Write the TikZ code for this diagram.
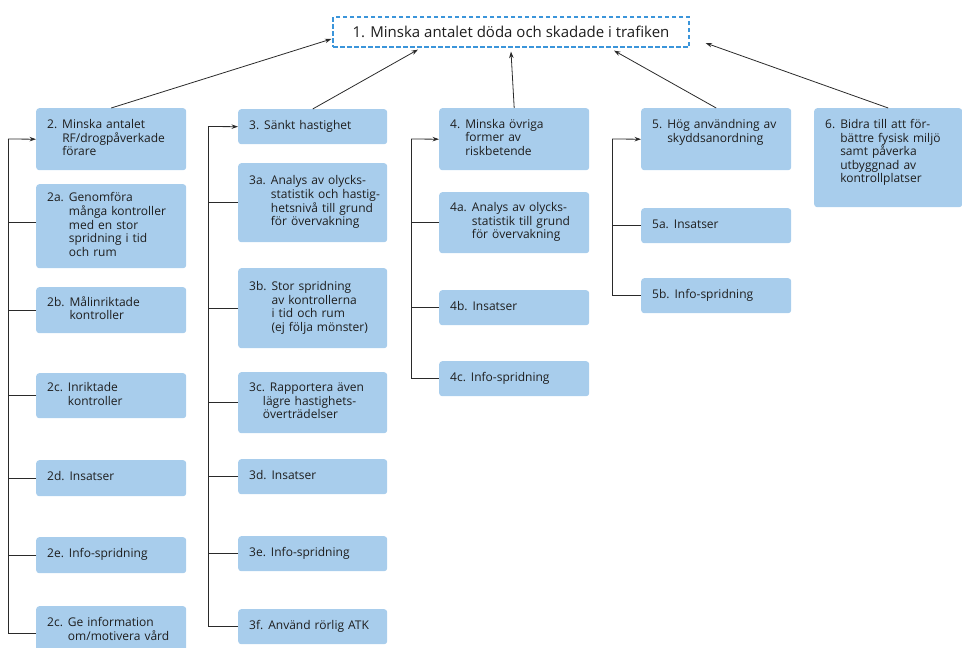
\documentclass[tikz,border=0pt]{standalone}
\usepackage{fontspec}
\setmainfont{Open Sans}
\usetikzlibrary{arrows.meta}
\definecolor{boxblue}{HTML}{A8CDEC}
\definecolor{dashblue}{HTML}{3B95DA}
\definecolor{linecol}{HTML}{2A2A2A}
\definecolor{textcol}{HTML}{1E1E1E}
\newcommand\itm[2]{\begin{tabular}[c]{@{}l@{\hspace{5pt}}l@{}}#1&#2\end{tabular}}
\tikzset{
  bx/.style={fill=boxblue, rounded corners=3pt, anchor=north west, inner xsep=11pt, inner ysep=0pt,
    align=left, text=textcol, font=\fontsize{12}{13.5}\selectfont},
  w150/.style={text width=128pt, minimum width=150pt},
  w149/.style={text width=127pt, minimum width=149pt},
  conn/.style={draw=linecol, line width=0.8pt},
  arr/.style={conn, -{Stealth[length=6.5pt,width=4.5pt]}},
}
\begin{document}
\begin{tikzpicture}[x=1pt,y=-1pt]
\useasboundingbox (0,0) rectangle (962,648);
% title
\node[draw=dashblue, dash pattern=on 4.5pt off 2.5pt, line width=1.2pt, fill=white,
  minimum width=356pt, minimum height=30pt, inner sep=0pt, text=textcol,
  font=\fontsize{15}{18}\selectfont] (t) at (511,32) {1. Minska antalet döda och skadade i trafiken};
% column 2
\node[bx,w150,minimum height=62pt] (n2) at (36,108) {\itm{2.}{Minska antalet\\&RF/drogpåverkade\\&förare}};
\node[bx,w150,minimum height=84pt] (n2a) at (36,184) {\itm{2a.}{Genomföra\\&många kontroller\\&med en stor\\&spridning i tid\\&och rum}};
\node[bx,w150,minimum height=46pt] (n2b) at (36,287) {\itm{2b.}{Målinriktade\\&kontroller}};
\node[bx,w150,minimum height=45pt] (n2c) at (36,373) {\itm{2c.}{Inriktade\\&kontroller}};
\node[bx,w150,minimum height=36pt] (n2d) at (36,460) {\itm{2d.}{Insatser}};
\node[bx,w150,minimum height=36pt] (n2e) at (36,537) {\itm{2e.}{Info-spridning}};
\node[bx,w150,minimum height=50pt] (n2f) at (36,606) {\itm{2c.}{Ge information\\&om/motivera vård}};
% column 3
\node[bx,w149,minimum height=35pt] (n3) at (238,109) {\itm{3.}{Sänkt hastighet}};
\node[bx,w149,minimum height=79pt] (n3a) at (238,163) {\itm{3a.}{Analys av olycks-\\&statistik och hastig-\\&hetsnivå till grund\\&för övervakning}};
\node[bx,w149,minimum height=80pt] (n3b) at (238,268) {\itm{3b.}{Stor spridning\\&av kontrollerna\\&i tid och rum\\&(ej följa mönster)}};
\node[bx,w149,minimum height=61pt] (n3c) at (238,372) {\itm{3c.}{Rapportera även\\&\hspace{-7pt}lägre hastighets-\\&\hspace{-7pt}överträdelser}};
\node[bx,w149,minimum height=35pt] (n3d) at (238,459) {\itm{3d.}{Insatser}};
\node[bx,w149,minimum height=35pt] (n3e) at (238,536) {\itm{3e.}{Info-spridning}};
\node[bx,w149,minimum height=35pt] (n3f) at (238,609) {\itm{3f.}{Använd rörlig ATK}};
% column 4
\node[bx,w150,minimum height=62pt] (n4) at (439,108) {\itm{4.}{Minska övriga\\&former av\\&riskbetende}};
\node[bx,w150,minimum height=61pt] (n4a) at (439,192) {\itm{4a.}{Analys av olycks-\\&statistik till grund\\&för övervakning}};
\node[bx,w150,minimum height=35pt] (n4b) at (439,290) {\itm{4b.}{Insatser}};
\node[bx,w150,minimum height=35pt] (n4c) at (439,361) {\itm{4c.}{Info-spridning}};
% column 5
\node[bx,w150,minimum height=62pt] (n5) at (641,108) {\parbox[c][62pt][t]{128pt}{\vspace{11pt}\itm{5.}{Hög användning av\\&skyddsanordning}}};
\node[bx,w150,minimum height=35pt] (n5a) at (641,208) {\itm{5a.}{Insatser}};
\node[bx,w150,minimum height=35pt] (n5b) at (641,278) {\itm{5b.}{Info-spridning}};
% column 6
\node[bx,text width=126pt,minimum width=148pt,minimum height=99pt] (n6) at (814,108) {\parbox[c][99pt][t]{126pt}{\vspace{11pt}\itm{6.}{Bidra till att för-\\&bättre fysisk miljö\\&samt påverka\\&utbyggnad av\\&kontrollplatser}}};
% arrows to title
\draw[arr] (n2.north) -- ([xshift=-1pt,yshift=-7pt]t.west);
\draw[arr] (n3.north) -- ([xshift=-93pt,yshift=-2pt]t.south);
\draw[arr] (n4.north) -- ([yshift=-4pt]t.south);
\draw[arr] (n5.north) -- ([xshift=103pt,yshift=-3pt]t.south);
\draw[arr] (n6.north) -- ([xshift=16pt,yshift=-11pt]t.east);
% spine column 2
\coordinate (s2) at (8,139);
\draw[arr] (s2) -- (n2.west);
\draw[conn] (s2) |- ([yshift=-2pt]n2f.west);
\foreach \n/\dy in {n2a/4,n2b/0,n2c/0,n2d/0,n2e/0}
  \draw[conn] ([yshift=\dy pt]\n.west) -- ([yshift=\dy pt]\n.west -| s2);
% spine column 3
\coordinate (s3) at (208,126.5);
\draw[arr] (s3) -- (n3.west);
\draw[conn] (s3) |- (n3f.west);
\foreach \n in {n3a,n3b,n3c,n3d,n3e}
  \draw[conn] (\n.west) -- (\n.west -| s3);
% spine column 4
\coordinate (s4) at (411,139);
\draw[arr] (s4) -- (n4.west);
\draw[conn] (s4) |- (n4c.west);
\foreach \n in {n4a,n4b}
  \draw[conn] (\n.west) -- (\n.west -| s4);
% spine column 5
\coordinate (s5) at (612,139);
\draw[arr] (s5) -- (n5.west);
\draw[conn] (s5) |- (n5b.west);
\draw[conn] (n5a.west) -- (n5a.west -| s5);
\end{tikzpicture}
\end{document}
